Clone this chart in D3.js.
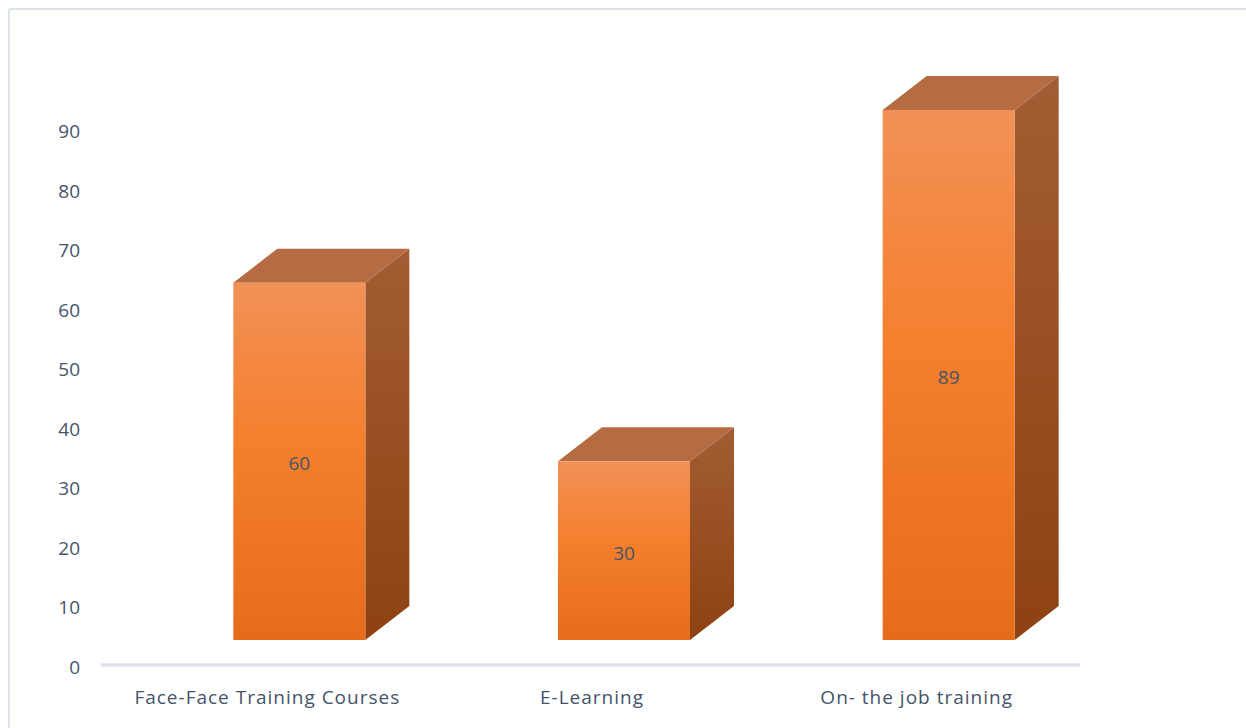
<!DOCTYPE html>
<html>
<head>
<meta charset="utf-8">
<script src="https://cdn.jsdelivr.net/npm/d3@7"></script>
<style>
  html, body { margin: 0; padding: 0; background: #ffffff; }
  svg { display: block; }
  text { font-family: "Open Sans", sans-serif; fill: #44546A; }
</style>
</head>
<body>
<script>
const categories = ["Face-Face Training Courses", "E-Learning", "On- the job training"];
const values = [60, 30, 89];
const tickValues = [0, 10, 20, 30, 40, 50, 60, 70, 80, 90];

const W = 1246, H = 728;
const svg = d3.select("body").append("svg").attr("width", W).attr("height", H);

// frame
svg.append("line").attr("x1", 9).attr("y1", 9).attr("x2", W).attr("y2", 9)
  .attr("stroke", "#DEE2E9").attr("stroke-width", 2);
svg.append("line").attr("x1", 9).attr("y1", 9).attr("x2", 9).attr("y2", H)
  .attr("stroke", "#DEE2E9").attr("stroke-width", 2);

// scales
const y = d3.scaleLinear().domain([0, 90]).range([667, 131]);
const x = d3.scaleBand().domain(categories).range([103, 1077]);

// 3D projection parameters
const frontShift = 27;
const depthX = 44, depthY = -34;
const barW = 132;
const barOffset = 34;

const defs = svg.append("defs");
const gFront = defs.append("linearGradient").attr("id", "gFront")
  .attr("x1", 0).attr("y1", 0).attr("x2", 0).attr("y2", 1);
gFront.append("stop").attr("offset", "0%").attr("stop-color", "#F29157");
gFront.append("stop").attr("offset", "45%").attr("stop-color", "#F57F2D");
gFront.append("stop").attr("offset", "100%").attr("stop-color", "#E56C1A");
const gSide = defs.append("linearGradient").attr("id", "gSide")
  .attr("x1", 0).attr("y1", 0).attr("x2", 0).attr("y2", 1);
gSide.append("stop").attr("offset", "0%").attr("stop-color", "#A35C33");
gSide.append("stop").attr("offset", "100%").attr("stop-color", "#8E4212");

// base line
svg.append("line").attr("x1", 101).attr("x2", 1080)
  .attr("y1", y(0) - 2).attr("y2", y(0) - 2)
  .attr("stroke", "#E0E3EA").attr("stroke-width", 3.5);

// y tick labels
svg.append("g").selectAll("text").data(tickValues).join("text")
  .attr("x", 80).attr("y", d => y(d))
  .attr("text-anchor", "end").attr("dominant-baseline", "central")
  .attr("font-size", 19)
  .text(d => d);

// bars
const bars = svg.append("g").selectAll("g").data(categories).join("g");
bars.each(function(c, i) {
  const g = d3.select(this);
  const v = values[i];
  const x0 = x(c) + x.bandwidth() / 2 + barOffset - barW / 2;
  const x1 = x0 + barW;
  const yTop = y(v) - frontShift;
  const yBot = y(0) - frontShift;
  g.append("path")
    .attr("d", `M${x1},${yTop} L${x1 + depthX},${yTop + depthY} L${x1 + depthX},${yBot + depthY} L${x1},${yBot} Z`)
    .attr("fill", "url(#gSide)");
  g.append("path")
    .attr("d", `M${x0},${yTop} L${x0 + depthX},${yTop + depthY} L${x1 + depthX},${yTop + depthY} L${x1},${yTop} Z`)
    .attr("fill", "#B66C42");
  g.append("rect")
    .attr("x", x0).attr("y", yTop).attr("width", barW).attr("height", yBot - yTop)
    .attr("fill", "url(#gFront)");
  g.append("text")
    .attr("x", x0 + barW / 2).attr("y", (yTop + yBot) / 2 + 2)
    .attr("text-anchor", "middle").attr("dominant-baseline", "central")
    .attr("font-size", 19)
    .text(v);
});

// category labels
svg.append("g").selectAll("text").data(categories).join("text")
  .attr("x", d => x(d) + x.bandwidth() / 2 + 2).attr("y", 697)
  .attr("text-anchor", "middle").attr("dominant-baseline", "central")
  .attr("font-size", 19).attr("letter-spacing", 1)
  .text(d => d);
</script>
</body>
</html>
